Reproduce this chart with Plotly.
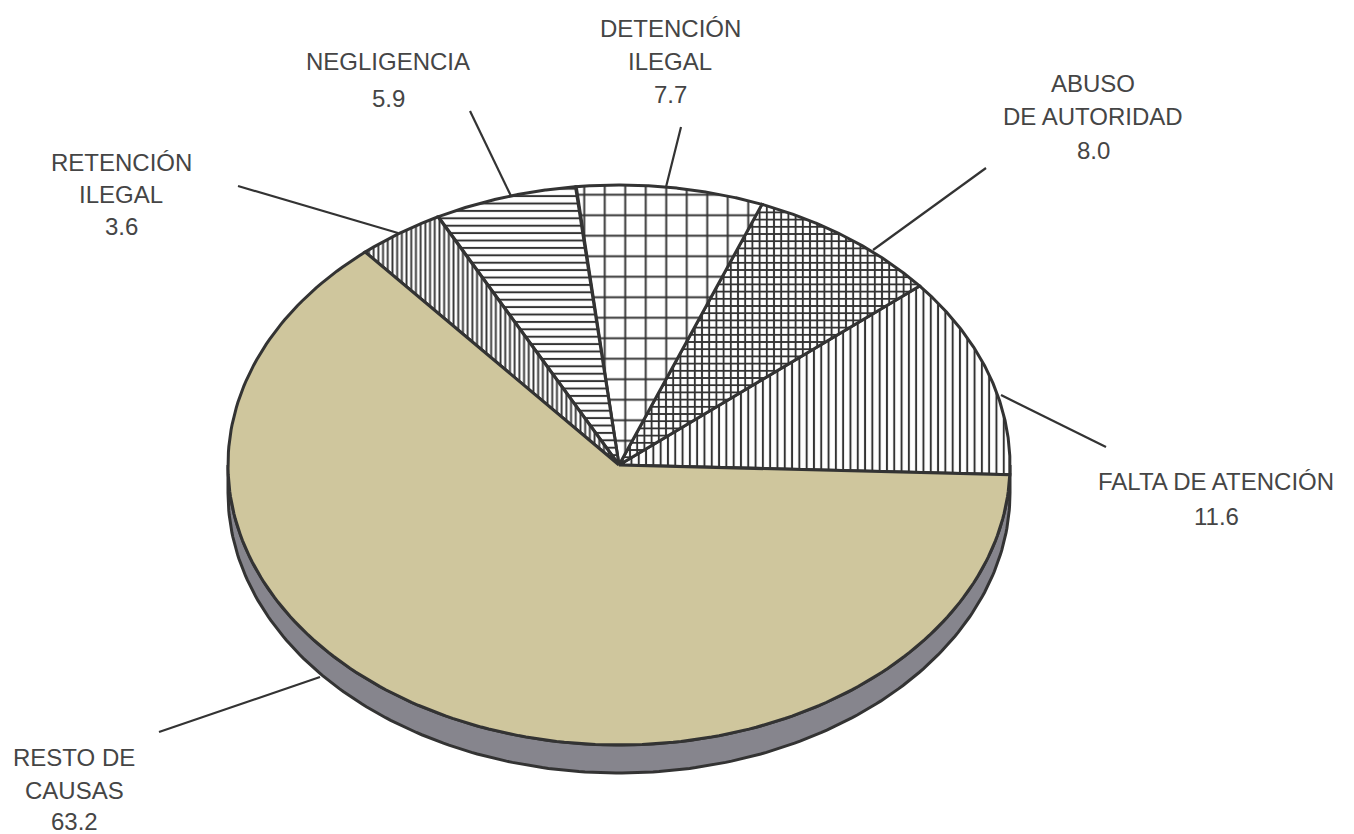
import numpy as np
import plotly.graph_objects as go

causes = [['FALTA DE ATENCIÓN'], ['ABUSO', 'DE AUTORIDAD'], ['DETENCIÓN', 'ILEGAL'], ['NEGLIGENCIA'], ['RETENCIÓN', 'ILEGAL'], ['RESTO DE', 'CAUSAS']]
values = [11.6, 8.0, 7.7, 5.9, 3.6, 63.2]

# one hatch per slice
hatch_shapes = ['|', '+', '+', '-', '|', '']
hatch_sizes = [7.3, 7.2, 20.5, 7.4, 4.7, 10]
hatch_solidity = [0.27, 0.46, 0.18, 0.27, 0.4, 0]
slice_colors = ['white', 'white', 'white', 'white', 'white', '#cfc69d']

# pie geometry on the page, in pixels
cx, cy = 619, 465
rx, ry = 391, 280
depth = 28
start_deg = -2

# label centres and the y of each text line
label_x = [1216, 1093, 670, 388, 121, 74]
label_y = [[481, 516], [83, 116, 150], [28, 61, 94], [61, 98], [162, 194, 226], [757, 790, 821]]
leader_x = [[1106, 1001], [986, 873], [681, 666], [470, 511], [238, 398], [159, 320]]
leader_y = [[447, 395], [168, 250], [127, 187], [111, 196], [186, 233], [732, 677]]

ink = '#333333'
text_color = '#454545'


def arc(t0, t1, dy=0):
    t = np.radians(np.linspace(t0, t1, 200))
    return cx + rx * np.cos(t), cy + dy - ry * np.sin(t)


fig = go.Figure()

# side wall of the disc
x_top, y_top = arc(0, -180)
x_bot, y_bot = arc(-180, 0, dy=depth)
fig.add_trace(go.Scatter(x=np.r_[x_top, x_bot, x_top[0]], y=np.r_[y_top, y_bot, y_top[0]], mode='lines', fill='toself',
                         fillcolor='#86858d', line=dict(color=ink, width=3), hoverinfo='skip'))

angle = start_deg
for i, v in enumerate(values):
    next_angle = angle + v * 3.6
    xa, ya = arc(angle, next_angle)
    x = np.r_[cx, xa, cx]
    y = np.r_[cy, ya, cy]
    pattern = dict(shape=hatch_shapes[i], size=hatch_sizes[i], solidity=hatch_solidity[i], fgcolor=ink, bgcolor=slice_colors[i], fgopacity=1)
    fig.add_trace(go.Scatter(x=x, y=y, mode='lines', fill='toself', fillcolor=slice_colors[i], fillpattern=pattern,
                             line=dict(color=ink, width=3), name=' '.join(causes[i]), hoverinfo='name'))
    angle = next_angle

for i in range(len(values)):
    fig.add_trace(go.Scatter(x=leader_x[i], y=leader_y[i], mode='lines', line=dict(color=ink, width=2.2), hoverinfo='skip'))
    lines = causes[i] + [f'{values[i]:.1f}']
    for text, y in zip(lines, label_y[i]):
        fig.add_annotation(x=label_x[i], y=y, text=text, showarrow=False, xanchor='center', yanchor='middle',
                           font=dict(family='Liberation Sans', size=24, color=text_color))

fig.update_xaxes(range=[0, 1354], visible=False)
fig.update_yaxes(range=[834, 0], visible=False)
fig.update_layout(width=1354, height=834, margin=dict(l=0, r=0, t=0, b=0), showlegend=False,
                  plot_bgcolor='white', paper_bgcolor='white')
fig.write_html('out.html', config=dict(displayModeBar=False),
               post_script="document.body.style.margin='0';document.body.style.overflow='hidden';")
